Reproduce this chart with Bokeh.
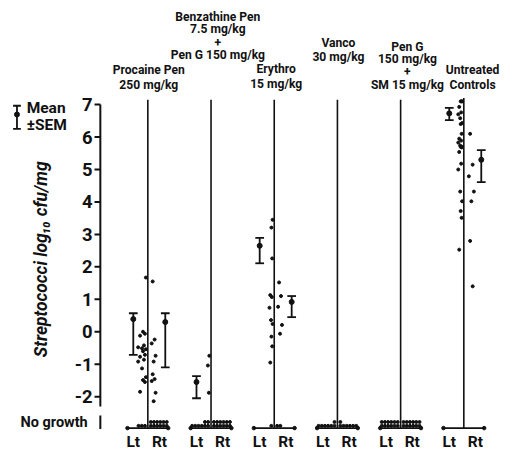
import math
from bokeh.plotting import figure
from bokeh.models import Range1d
from bokeh.core.properties import value
from bokeh.embed import file_html
from bokeh.resources import INLINE

# ---------------- data ----------------
groups = ["Procaine Pen", "Benzathine Pen + Pen G", "Erythro", "Vanco", "Pen G + SM", "Untreated Controls"]
group_label_lines = [
    ["Procaine Pen", "250 mg/kg"],
    ["Benzathine Pen", "7.5 mg/kg", "+", "Pen G 150 mg/kg"],
    ["Erythro", "15 mg/kg"],
    ["Vanco", "30 mg/kg"],
    ["Pen G", "150 mg/kg", "+", "SM 15 mg/kg"],
    ["Untreated", "Controls"],
]

y_ticks = [7, 6, 5, 4, 3, 2, 1, 0, -1, -2]
y_tick_labels = ["7", "6", "5", "4", "3", "2", "1", "0", "-1", "-2"]
NO_GROWTH = -2.8

# log10 cfu/mg per animal (left / right), values with growth
procaine_lt = [1.67, 0.0, -0.06, -0.12, -0.42, -0.48, -0.51, -0.54, -0.6, -0.71,
               -0.77, -0.86, -0.92, -1.13, -1.4, -1.49, -1.55, -1.85]
procaine_rt = [1.55, -0.24, -0.36, -0.74, -0.92, -1.31, -1.46, -1.52, -1.88, -2.14]
benzathine_lt = [-0.74, -1.04, -1.88]
benzathine_rt = []
erythro_lt = [3.45, 3.21, 2.26, 1.13, 1.07, 0.74, 0.36, 0.24, -0.15, -0.45, -0.95]
erythro_rt = [1.52, 1.1, 0.77, 0.21, -0.06]
vanco_lt = []
vanco_rt = []
pensm_lt = []
pensm_rt = []
controls_lt = [7.1, 7.1, 7.1, 6.93, 6.76, 6.7, 6.58, 6.43, 6.4, 6.1, 5.95, 5.89, 5.83,
               5.74, 5.7, 5.7, 5.68, 5.54, 5.18, 5.0, 4.32, 4.02, 3.72, 3.51, 2.53]
controls_rt = [6.1, 5.15, 4.79, 4.32, 4.02, 2.8, 1.4]

lt_values = [procaine_lt, benzathine_lt, erythro_lt, vanco_lt, pensm_lt, controls_lt]
rt_values = [procaine_rt, benzathine_rt, erythro_rt, vanco_rt, pensm_rt, controls_rt]

# number of animals with no growth
no_growth_lt = [3, 8, 1, 7, 12, 0]
no_growth_rt = [12, 12, 2, 7, 12, 0]

# mean +/- SEM
sem_group = [0, 0, 1, 2, 2, 5, 5]
sem_side = ["Lt", "Rt", "Lt", "Lt", "Rt", "Lt", "Rt"]
sem_mean = [0.39, 0.30, -1.55, 2.65, 0.92, 6.73, 5.30]
sem_low = [-0.71, -1.10, -2.05, 2.11, 0.45, 6.52, 4.61]
sem_high = [0.57, 0.57, -1.37, 2.89, 1.10, 6.90, 5.60]

# ---------------- layout ----------------
W, H = 505, 451
REF_W, REF_H = 521, 467
S = W / REF_W           # overall shrink so the whole figure fits
X0_PX = 152.0           # reference x of first group line
PX_PER_GROUP = 65.2
PX_PER_UNIT = 33.6
ZERO_PX = 343.0


def px(d):
    return d / PX_PER_GROUP


def vy(page_y):
    return (ZERO_PX - page_y) / PX_PER_UNIT


def fs(size):
    return "%.1fpx" % (size * S)


FONT = value("Roboto")
BLACK = "#111111"

p = figure(width=W, height=H,
           x_range=Range1d((0 - X0_PX) / PX_PER_GROUP, (REF_W - X0_PX) / PX_PER_GROUP),
           y_range=Range1d(vy(REF_H), vy(0)),
           output_backend="svg", toolbar_location=None,
           x_axis_location=None, y_axis_location=None, min_border=0)
p.grid.visible = False
p.outline_line_color = None
p.background_fill_color = "white"
p.border_fill_color = "white"

BASE = -2.97
TOP = 7.15
gx = list(range(len(groups)))

# vertical group lines and baselines
p.segment(x0=gx, y0=[BASE] * 6, x1=gx, y1=[TOP] * 5 + [7.2], line_color=BLACK, line_width=1.6)
p.segment(x0=[g - px(21) for g in gx], y0=[BASE] * 6, x1=[g + px(21) for g in gx], y1=[BASE] * 6,
          line_color=BLACK, line_width=1.6)
p.scatter(x=[g - px(21) for g in gx] + [g + px(21) for g in gx], y=[BASE] * 12,
          size=3.5, color=BLACK)

# y axis
AX = px(103 - X0_PX)
p.segment(x0=[AX], y0=[7.0], x1=[AX], y1=[-2.3], line_color=BLACK, line_width=2)
p.segment(x0=[AX], y0=[-2.58], x1=[AX], y1=[-3.0], line_color=BLACK, line_width=2)
p.segment(x0=[AX - px(6)] * len(y_ticks), y0=y_ticks, x1=[AX] * len(y_ticks), y1=y_ticks,
          line_color=BLACK, line_width=2)
p.text(x=[AX - px(8)] * len(y_ticks), y=y_ticks, text=y_tick_labels, text_align="right",
       text_baseline="middle", text_font=FONT, text_font_size=fs(19), text_font_style="bold",
       text_color=BLACK)
p.text(x=[AX - px(13)], y=[NO_GROWTH], text=["No growth"], text_align="right",
       text_baseline="middle", text_font=FONT, text_font_size=fs(15), text_font_style="bold",
       text_color=BLACK)

# y axis label
p.text(x=[px(42 - X0_PX)], y=[vy(268)], text=["Streptococci log\u2081\u2080 cfu/mg"], angle=math.pi / 2,
       text_align="center", text_baseline="middle", text_font=FONT, text_font_size=fs(18),
       text_font_style="bold italic", text_color=BLACK)

# legend (Mean +/- SEM)
LX = px(17 - X0_PX)
p.segment(x0=[LX, LX - px(4), LX - px(4)], y0=[vy(109), vy(109), vy(133)],
          x1=[LX, LX + px(4), LX + px(4)], y1=[vy(133), vy(109), vy(133)],
          line_color=BLACK, line_width=1.8)
p.scatter(x=[LX], y=[vy(118)], size=5, color=BLACK)
p.text(x=[px(27 - X0_PX)] * 2, y=[vy(111), vy(129)], text=["Mean", "\u00b1SEM"],
       text_align="left", text_baseline="middle", text_font=FONT, text_font_size=fs(16),
       text_font_style="bold", text_color=BLACK)

# group labels
label_dx = [1, 7, 2, 1, 7, 9]
label_top = [72, 17, 71, 44, 48, 72]
lx, ly, lt = [], [], []
for g, lines in enumerate(group_label_lines):
    step = 15 if len(lines) == 2 else 13
    for k, line in enumerate(lines):
        lx.append(g + px(label_dx[g]))
        ly.append(vy(label_top[g] + k * step))
        lt.append(line)
p.text(x=lx, y=ly, text=lt, text_align="center", text_baseline="middle",
       text_font=FONT, text_font_size=fs(12.5), text_font_style="bold", text_color=BLACK)

# Lt / Rt labels
p.text(x=[g - px(15) for g in gx] + [g + px(12) for g in gx], y=[vy(457)] * 12,
       text=["Lt"] * 6 + ["Rt"] * 6, text_align="center", text_baseline="middle",
       text_font=FONT, text_font_size=fs(16), text_font_style="bold", text_color=BLACK)

# individual animals
lt_jit = [-2, -5, -3, -8, -4, -10, -6]
rt_jit = [5, 7, 4, 8, 6]
spread = [1.0, 0.5, 0.4, 1.0, 1.0, 0.5]
dx_, dy_ = [], []
for g in gx:
    for k, v in enumerate(lt_values[g]):
        dx_.append(g + px(-1.5 + (lt_jit[k % len(lt_jit)] + 1.5) * spread[g]))
        dy_.append(v)
    for k, v in enumerate(rt_values[g]):
        dx_.append(g + px(rt_jit[k % len(rt_jit)] * (1.0 if g != 5 else 1.3)))
        dy_.append(v)
    # no growth animals, packed in rows along the baseline
    for k in range(no_growth_lt[g]):
        row, col = divmod(k, 6)
        dx_.append(g - px(3 + col * 3.3))
        dy_.append(-2.9 + row * 0.12)
    for k in range(no_growth_rt[g]):
        row, col = divmod(k, 6)
        dx_.append(g + px(3 + col * 3.3))
        dy_.append(-2.9 + row * 0.12)
p.scatter(x=dx_, y=dy_, size=3, color=BLACK)

# mean +/- SEM bars
bx = [sem_group[i] + px(-15 if sem_side[i] == "Lt" else 18) for i in range(len(sem_group))]
cap = px(4.5)
p.segment(x0=bx, y0=sem_low, x1=bx, y1=sem_high, line_color=BLACK, line_width=1.8)
p.segment(x0=[b - cap for b in bx], y0=sem_low, x1=[b + cap for b in bx], y1=sem_low,
          line_color=BLACK, line_width=1.8)
p.segment(x0=[b - cap for b in bx], y0=sem_high, x1=[b + cap for b in bx], y1=sem_high,
          line_color=BLACK, line_width=1.8)
p.scatter(x=bx, y=sem_mean, size=5, color=BLACK)

open("out.html", "w").write(file_html(p, INLINE))
